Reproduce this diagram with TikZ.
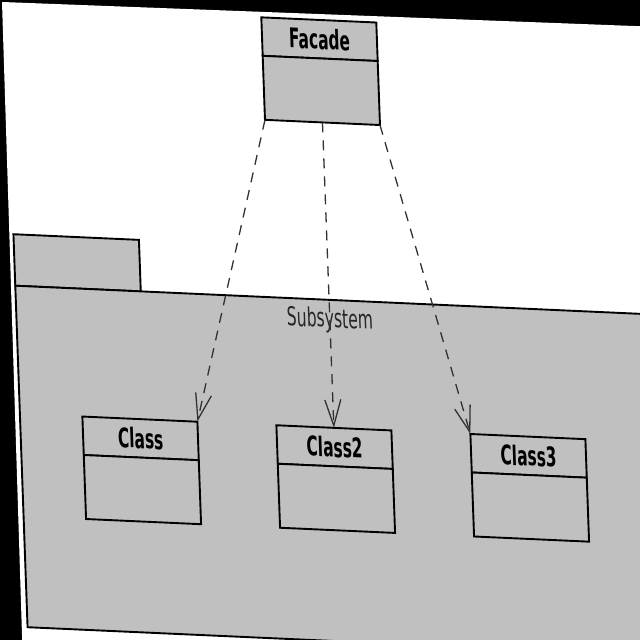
\documentclass[tikz,border=0pt]{standalone}
\usepackage{fontspec}
\newfontfamily\umlbold[FakeStretch=0.57]{DejaVu Sans Bold}
\newfontfamily\umlplain[FakeStretch=0.6]{DejaVu Sans}
\usetikzlibrary{positioning, arrows.meta}
\definecolor{umlgray}{RGB}{192,192,192}
\definecolor{dashgray}{RGB}{50,50,50}

\begin{document}
\begin{tikzpicture}[x=1pt, y=1pt,
  classhead/.style={draw, fill=umlgray, line width=1.9pt, minimum width=115pt,
    minimum height=38.5pt, inner sep=0pt, outer sep=0pt,
    font=\umlbold\fontsize{27}{30}\selectfont},
  classbody/.style={draw, fill=umlgray, line width=1.9pt, minimum width=115pt,
    minimum height=64pt, inner sep=0pt, outer sep=0pt},
  depend/.style={dashgray, line width=1.3pt, dash pattern=on 10pt off 8pt,
    -{Straight Barb[length=26pt, width=16pt, line width=1.3pt]}}]
  \clip (0,0) rectangle (640,640);
  \fill[black] (0,0) rectangle (640,640);
  % the scanned sheet
  \fill[white] (2,638) -- (660,613) -- (660,-20) -- (22.8,-20) -- cycle;
  \begin{scope}[cm={1,-0.045,-0.036,1,(0pt,640pt)}, transform shape]
    % package
    \draw[fill=umlgray, line width=1.9pt] (5,-234) rectangle (130.5,-285.5);
    \draw[fill=umlgray, line width=1.9pt] (5,-285.5) rectangle (760,-627);
    \node[font=\umlplain\fontsize{26}{28}\selectfont, text=black!85] (subsys) at (319,-306) {Subsystem};

    % classes
    \node[classhead, anchor=north] (facade) at (318.6,-5.6) {Facade};
    \node[classbody, below=0pt of facade] (facadebody) {};
    \node[classhead, anchor=north] (class1) at (125,-413.5) {Class};
    \node[classbody, below=0pt of class1] (class1body) {};
    \node[classhead, anchor=north] (class2) at (319,-413.5) {Class2};
    \node[classbody, below=0pt of class2] (class2body) {};
    \node[classhead, anchor=north] (class3) at (513,-413.5) {Class3};
    \node[classbody, below=0pt of class3] (class3body) {};

    % dependencies
    \draw[depend] (facadebody.south west) -- (class1.north east);
    \draw[depend] (facadebody.south) -- (class2.north);
    \draw[depend] (facadebody.south east) -- (class3.north west);
  \end{scope}
\end{tikzpicture}
\end{document}
